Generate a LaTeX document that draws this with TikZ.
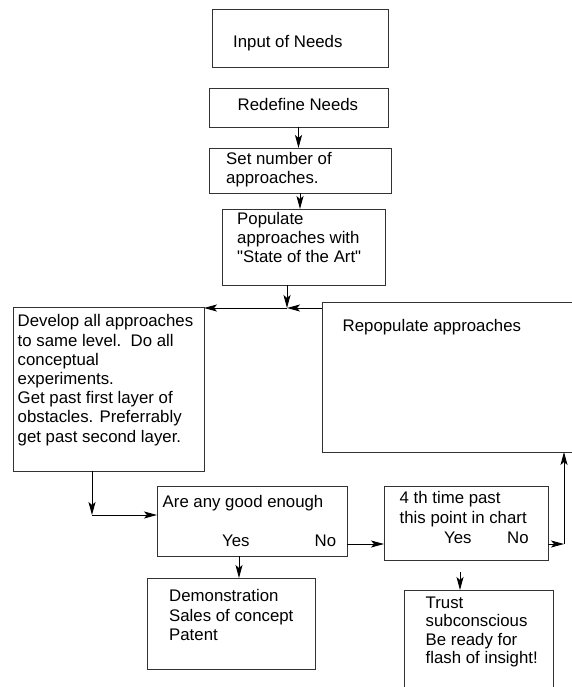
\documentclass[tikz,border=0pt]{standalone}
\usepackage{fontspec}
\setmainfont{Liberation Sans}
\usetikzlibrary{arrows.meta, positioning}
\definecolor{boxline}{HTML}{333333}

\begin{document}
\begin{tikzpicture}[x=1pt, y=-1pt, font=\fontsize{16.8}{19.2}\selectfont,
	box/.style={draw=boxline, line width=0.8pt, anchor=north west, inner sep=0pt, outer sep=0pt},
	txt/.style={anchor=north west, align=left, inner sep=0pt, execute at begin node=\strut},
	arr/.style={-{Stealth[length=13pt, width=7pt, inset=3pt]}, line width=0.9pt}]
						\useasboundingbox (0,0) rectangle (572,687);
						\node[box, minimum width=176pt, minimum height=58pt] (input) at (212,9) {};
						\node[box, minimum width=179pt, minimum height=39pt] (redefine) at (209,88) {};
						\node[box, minimum width=182pt, minimum height=45pt] (setnum) at (209,148) {};
						\node[box, minimum width=163pt, minimum height=76pt] (populate) at (222,209) {};
						\node[box, minimum width=191pt, minimum height=164pt] (develop) at (13,307) {};
						\node[box, minimum width=260pt, minimum height=150pt] (repop) at (322,302) {};
						\node[box, minimum width=190pt, minimum height=70pt] (are) at (157,486) {};
						\node[box, minimum width=168pt, minimum height=91pt] (demo) at (147,578) {};
						\node[box, minimum width=164pt, minimum height=74pt] (fourth) at (384,486) {};
						\node[box, minimum width=149pt, minimum height=110pt] (trust) at (404,590) {};
						\node[txt] (inputtxt) at ([shift={(21,25)}]input.north west) {Input of Needs};
						\node[txt] (redefinetxt) at ([shift={(28.5,8.5)}]redefine.north west) {Redefine Needs};
						\node[txt] (setnumtxt) at ([shift={(17,4)}]setnum.north west) {Set number of\\approaches.};
						\node[txt] (populatetxt) at ([shift={(15,3)}]populate.north west) {Populate\\approaches with\\\textquotedbl State of the Art\textquotedbl};
						\node[txt] (developtxt) at ([shift={(4.5,7.5)}]develop.north west) {Develop all approaches\\to same level.\ \ Do all\\conceptual\\experiments.\\Get past first layer of\\obstacles. Preferrably\\get past second layer.};
						\node[txt] (repoptxt) at ([shift={(20.5,15.5)}]repop.north west) {Repopulate approaches};
						\node[txt] (aretxt) at ([shift={(5.5,7.5)}]are.north west) {Are any good enough};
						\node[txt] (areyes) at ([shift={(65,46.5)}]are.north west) {Yes};
						\node[txt] (areno) at ([shift={(157.5,46.5)}]are.north west) {No};
						\node[txt] (fourthtxt) at ([shift={(15.5,5.5)}]fourth.north west) {4 th time past\\this point in chart};
						\node[txt] (fourthyes) at ([shift={(60,43.5)}]fourth.north west) {Yes};
						\node[txt] (fourthno) at ([shift={(123,43.5)}]fourth.north west) {No};
						\node[txt] (demotxt) at ([shift={(22,11.5)}]demo.north west) {Demonstration\\Sales of concept\\Patent};
						\node[txt, font=\fontsize{16.8}{18.5}\selectfont] (trusttxt) at ([shift={(21.5,6.5)}]trust.north west) {Trust\\subconscious\\Be ready for\\flash of insight!};
						\coordinate (merge) at (287,308);
						\coordinate (bend) at (92,515);
						\coordinate (back) at (564,544);
						\draw[arr] (redefine.south) -- (redefine.south |- setnum.north);
						\draw[arr] (setnum.south) -- (setnum.south |- populate.north);
						\draw[arr] (populate.south -| merge) -- (merge);
						\draw[arr] (repop.west |- merge) -- (merge);
						\draw[arr] (merge) -- (develop.east |- merge);
						\draw[arr] (develop.south -| bend) -- (bend);
						\draw[arr] (bend) -- (bend -| are.west);
						\draw[arr] ([shift={(-13,0)}]are.south) -- ([shift={(-13,0)}]are.south |- demo.north);
						\draw[arr] (are.east |- back) -- (fourth.west |- back);
						\draw[arr] (fourth.east |- back) -- (back);
						\draw[arr] (back) -- (back |- repop.south);
						\draw[arr] ([shift={(-6,12)}]fourth.south) -- ([shift={(-6,0)}]fourth.south |- trust.north);
					\end{tikzpicture}
\end{document}
